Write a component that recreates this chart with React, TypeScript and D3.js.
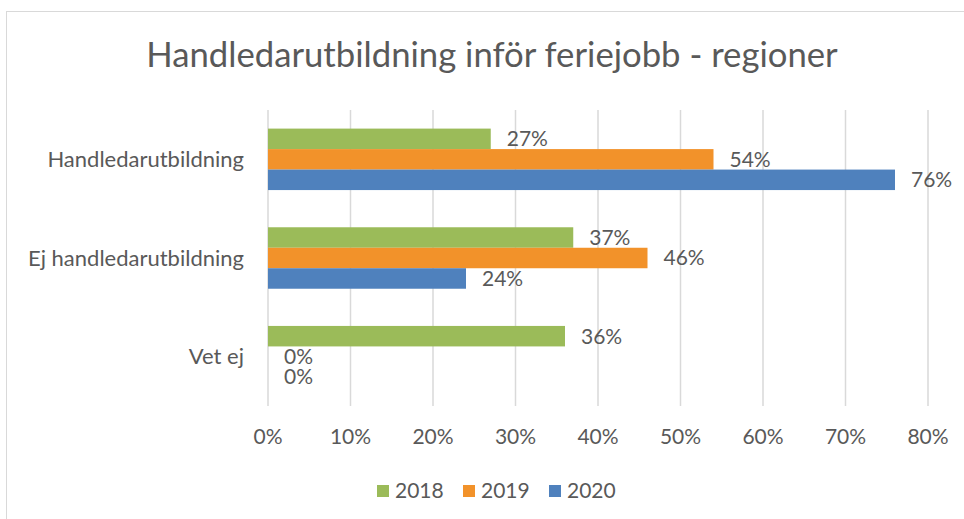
import * as d3 from "d3";

const W = 964;
const H = 519;

const TITLE = "Handledarutbildning inför feriejobb - regioner";
const categories = ["Handledarutbildning", "Ej handledarutbildning", "Vet ej"];
const years = ["2018", "2019", "2020"];
const values2018 = [0.27, 0.37, 0.36];
const values2019 = [0.54, 0.46, 0];
const values2020 = [0.76, 0.24, 0];
const xTicks = [0, 0.1, 0.2, 0.3, 0.4, 0.5, 0.6, 0.7, 0.8];

const COLORS: Record<string, string> = {
  "2018": "#9BBB59",
  "2019": "#F2922A",
  "2020": "#4F81BD",
};
const TEXT = "#595959";
const GRID = "#D9D9D9";
const FONT = "Lato, 'Open Sans', sans-serif";
const LABEL_SIZE = 21;

const PLOT = { left: 268, right: 928, top: 110, bottom: 406 };

const seriesByYear: Record<string, number[]> = {
  "2018": values2018,
  "2019": values2019,
  "2020": values2020,
};

export default function App() {
  const x = d3.scaleLinear().domain([0, 0.8]).range([PLOT.left, PLOT.right]);
  const y = d3
    .scaleBand<string>()
    .domain(categories)
    .range([PLOT.top, PLOT.bottom])
    .paddingInner(0.377)
    .paddingOuter(0.1885);
  const inner = d3.scaleBand<string>().domain(years).range([0, y.bandwidth()]);
  const pct = d3.format(".0%");

  const legendStep = 86;
  const legendX = d3
    .scaleLinear()
    .domain([0, years.length - 1])
    .range([377, 377 + legendStep * (years.length - 1)]);

  return (
    <div style={{ position: "absolute", left: 0, top: 0 }}>
      <svg width={W} height={H} style={{ display: "block", background: "#fff" }}>
        <rect x={6.5} y={11.5} width={W + 20} height={H + 20} fill="#fff" stroke={GRID} />

        <text
          x={492}
          y={67}
          textAnchor="middle"
          fontFamily={FONT}
          fontSize={34.7}
          fill={TEXT}
        >
          {TITLE}
        </text>

        {xTicks.map((t) => (
          <line
            key={t}
            x1={x(t)}
            x2={x(t)}
            y1={PLOT.top}
            y2={PLOT.bottom}
            stroke={GRID}
            strokeWidth={1.5}
          />
        ))}

        {xTicks.map((t) => (
          <text
            key={t}
            x={x(t)}
            y={437}
            dy="0.35em"
            textAnchor="middle"
            fontFamily={FONT}
            fontSize={LABEL_SIZE}
            fill={TEXT}
          >
            {pct(t)}
          </text>
        ))}

        {categories.map((c) => (
          <text
            key={c}
            x={244}
            y={(y(c) ?? 0) + y.bandwidth() / 2}
            dy="0.35em"
            textAnchor="end"
            fontFamily={FONT}
            fontSize={22}
            fill={TEXT}
          >
            {c}
          </text>
        ))}

        {categories.map((c, ci) => (
          <g key={c} transform={`translate(0,${y(c)})`}>
            {years.map((yr) => {
              const v = seriesByYear[yr][ci];
              const by = inner(yr) ?? 0;
              return (
                <g key={yr}>
                  {v > 0 && (
                    <rect
                      x={x(0)}
                      y={by}
                      width={x(v) - x(0)}
                      height={inner.bandwidth()}
                      fill={COLORS[yr]}
                    />
                  )}
                  <text
                    x={x(v) + 16}
                    y={by + inner.bandwidth() / 2}
                    dy="0.35em"
                    fontFamily={FONT}
                    fontSize={LABEL_SIZE}
                    fill={TEXT}
                  >
                    {pct(v)}
                  </text>
                </g>
              );
            })}
          </g>
        ))}

        {years.map((yr, i) => (
          <g key={yr} transform={`translate(${legendX(i)},491)`}>
            <rect x={0} y={-6} width={12} height={12} fill={COLORS[yr]} />
            <text
              x={18}
              y={0}
              dy="0.35em"
              fontFamily={FONT}
              fontSize={LABEL_SIZE}
              fill={TEXT}
            >
              {yr}
            </text>
          </g>
        ))}
      </svg>
    </div>
  );
}
